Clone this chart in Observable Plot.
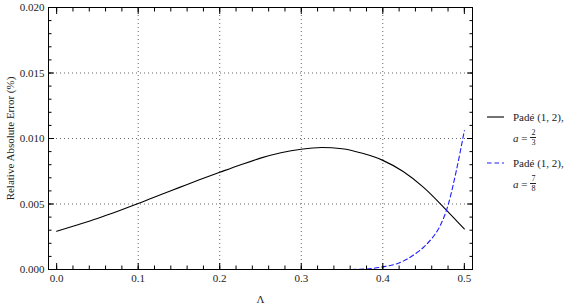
<!DOCTYPE html>
<html><head><meta charset="utf-8">
<script src="https://cdn.jsdelivr.net/npm/d3@7"></script>
<script src="https://cdn.jsdelivr.net/npm/@observablehq/plot@0.6"></script>
<style>
body{margin:0;background:#fff;}
#wrap{position:relative;width:576px;height:305px;font-family:"Liberation Serif",serif;color:#222;}
.entry{position:absolute;left:487px;font-size:11px;line-height:18px;white-space:nowrap;font-family:"Liberation Serif",serif;}
.row1{display:flex;align-items:center;height:18px;}
.row1 svg{margin-right:9px;}
.row2{position:absolute;left:26px;top:20px;display:flex;align-items:center;white-space:nowrap;}
.frac{display:inline-flex;flex-direction:column;align-items:center;font-size:8px;line-height:9px;margin-left:3px;}
.frac .num{border-bottom:0.8px solid #222;padding:0 1px;}
</style></head>
<body><div id="wrap"></div>
<script>
// Black solid: Padé (1,2), a = 2/3
const lambdaA = [0.00,0.025,0.05,0.075,0.10,0.125,0.15,0.175,0.20,0.225,0.25,0.275,0.30,0.325,0.35,0.375,0.40,0.425,0.45,0.475,0.50];
const errA    = [0.00292,0.0034,0.0039,0.00445,0.00503,0.00565,0.00625,0.00685,0.00742,0.00798,0.00850,0.00891,0.00918,0.00931,0.00922,0.00887,0.00833,0.00748,0.00627,0.00473,0.00309];
// Blue dashed: Padé (1,2), a = 7/8
const lambdaB = [0.362,0.38,0.40,0.42,0.43,0.44,0.45,0.46,0.47,0.48,0.49,0.50];
const errB    = [0.0,0.00004,0.0002,0.0005,0.0008,0.0012,0.0017,0.00236,0.0033,0.0049,0.0075,0.0106];

const seriesNames = ["Padé (1, 2),","Padé (1, 2),"];
const aNum = ["2","7"];
const aDen = ["3","8"];
const seriesColors = ["#000000","#1f1fff"];
const seriesDash = [null,"4.5,3"];

const xMajor = [0,0.1,0.2,0.3,0.4,0.5];
const xGrid = [0.1,0.2,0.3,0.4];
const xMinor = d3.range(0,0.5001,0.02);
const yMajor = [0,0.005,0.01,0.015,0.02];
const yGrid = [0.005,0.01,0.015];
const yMinor = d3.range(0,0.02001,0.001);

const A = lambdaA.map((x,i)=>({x, y:errA[i]}));
const B = lambdaB.map((x,i)=>({x, y:errB[i]}));

const gridStyle = {stroke:"#666", strokeOpacity:1, strokeDasharray:"1,3", strokeWidth:1};
const chart = Plot.plot({
  width:576, height:305,
  marginLeft:48, marginRight:104, marginTop:7, marginBottom:36,
  x:{domain:[-0.01,0.51]},
  y:{domain:[0,0.02]},
  style:{fontFamily:"Liberation Serif", fontSize:"11px", color:"#222", background:"white", overflow:"visible"},
  marks:[
    Plot.gridX(xGrid, gridStyle),
    Plot.gridY(yGrid, gridStyle),
    Plot.line(A, {x:"x", y:"y", stroke:seriesColors[0], strokeWidth:1.1, curve:"monotone-x"}),
    Plot.line(B, {x:"x", y:"y", stroke:seriesColors[1], strokeWidth:1.1, strokeDasharray:seriesDash[1], curve:"monotone-x"}),
    Plot.frame({stroke:"#000", strokeWidth:1}),
    Plot.axisX(xMajor, {anchor:"bottom", tickSize:0, tickPadding:5, tickFormat:d3.format(".1f"), label:"Λ", labelAnchor:"center", labelArrow:"none", labelOffset:33, fontSize:11}),
    Plot.axisX(xMajor, {anchor:"bottom", tickSize:-6, fill:"none", label:null, stroke:"#000"}),
    Plot.axisX(xMinor, {anchor:"bottom", tickSize:-3.5, fill:"none", label:null, stroke:"#000"}),
    Plot.axisX(xMajor, {anchor:"top", tickSize:-6, fill:"none", label:null, stroke:"#000"}),
    Plot.axisX(xMinor, {anchor:"top", tickSize:-3.5, fill:"none", label:null, stroke:"#000"}),
    Plot.axisY(yMajor, {anchor:"left", tickSize:0, tickPadding:4, tickFormat:d3.format(".3f"), label:"Relative Absolute Error (%)", labelAnchor:"center", labelArrow:"none", labelOffset:42, fontSize:11}),
    Plot.axisY(yMajor, {anchor:"left", tickSize:-6, fill:"none", label:null, stroke:"#000"}),
    Plot.axisY(yMinor, {anchor:"left", tickSize:-3.5, fill:"none", label:null, stroke:"#000"}),
    Plot.axisY(yMajor, {anchor:"right", tickSize:-6, fill:"none", label:null, stroke:"#000"}),
    Plot.axisY(yMinor, {anchor:"right", tickSize:-3.5, fill:"none", label:null, stroke:"#000"})
  ]
});
const wrap = document.getElementById("wrap");
wrap.appendChild(chart);

seriesNames.forEach((name,i)=>{
  const e = document.createElement("div");
  e.className = "entry";
  e.style.top = (108 + i*46) + "px";
  const dash = seriesDash[i] ? `stroke-dasharray="${seriesDash[i]}"` : "";
  e.innerHTML = `<div class="row1"><svg width="17" height="4"><line x1="0" y1="2" x2="17" y2="2" stroke="${seriesColors[i]}" stroke-width="1.1" ${dash}/></svg><span>${name}</span></div>
  <div class="row2"><span><i>a</i> =</span><span class="frac"><span class="num">${aNum[i]}</span><span>${aDen[i]}</span></span></div>`;
  wrap.appendChild(e);
});
</script>
</body></html>
